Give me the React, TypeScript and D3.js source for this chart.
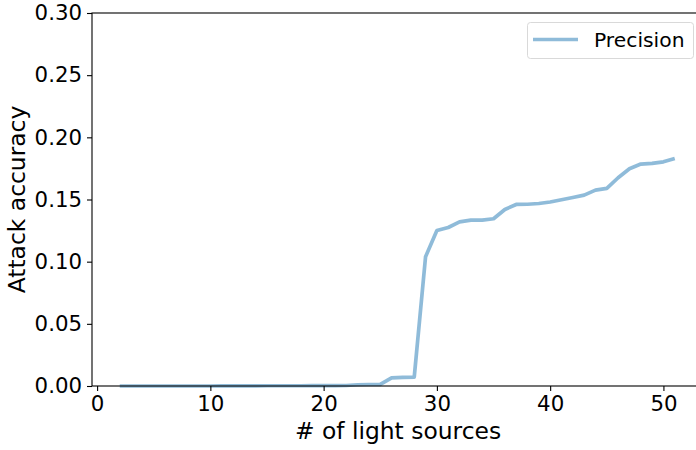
import React, { useEffect, useRef } from 'react';
import * as d3 from 'd3';

// number of light sources
const lightSources = [
  2, 3, 4, 5, 6, 7, 8, 9, 10, 11, 12, 13, 14, 15, 16, 17, 18, 19, 20, 21,
  22, 23, 24, 25, 26, 27, 28, 29, 30, 31, 32, 33, 34, 35, 36, 37, 38, 39, 40,
  41, 42, 43, 44, 45, 46, 47, 48, 49, 50, 51,
];

// attack accuracy (precision)
const precision = [
  0, 0, 0, 0, 0, 0, 0, 0, 0, 0.0001, 0.0001, 0.0001, 0.0001, 0.0002, 0.0002, 0.0002, 0.0002, 0.0003, 0.0003, 0.0003,
  0.0004, 0.0010, 0.0012, 0.0013, 0.0065, 0.0070, 0.0072, 0.104, 0.125, 0.1275, 0.132, 0.1334, 0.1334, 0.1345,
  0.142, 0.146, 0.1462, 0.1468, 0.148, 0.1498, 0.1516, 0.1535, 0.1575, 0.1589, 0.1675, 0.1747, 0.1785, 0.179,
  0.1803, 0.183,
];

const xTicks = [0, 10, 20, 30, 40, 50];
const yTicks = [0, 0.05, 0.1, 0.15, 0.2, 0.25, 0.3];

function App() {
  const chartRef = useRef<SVGSVGElement>(null);

  useEffect(() => {
    document.body.style.margin = '0';

    const svg = d3.select(chartRef.current);
    svg.selectAll('*').remove();

    const font = 'DejaVu Sans, sans-serif';
    const left = 92, top = 13, bottom = 386, right = 702.5;

    const x = d3.scaleLinear().domain([-0.45, 53.45]).range([left, right]);
    const y = d3.scaleLinear().domain([0, 0.3]).range([bottom, top]);

    const data = lightSources.map((n, i) => ({ n, v: precision[i] }));

    const line = d3.line<{ n: number; v: number }>()
      .x(d => x(d.n))
      .y(d => y(d.v));

    svg.append('path')
      .datum(data)
      .attr('d', line)
      .attr('fill', 'none')
      .attr('stroke', '#1f77b4')
      .attr('stroke-opacity', 0.5)
      .attr('stroke-width', 3.7)
      .attr('stroke-linejoin', 'round');

    // frame
    svg.append('rect')
      .attr('x', left)
      .attr('y', top)
      .attr('width', right - left)
      .attr('height', bottom - top)
      .attr('fill', 'none')
      .attr('stroke', '#000')
      .attr('stroke-width', 1.1);

    const xAxis = svg.append('g')
      .attr('transform', 'translate(0,' + bottom + ')')
      .call(d3.axisBottom(x).tickValues(xTicks).tickSize(5).tickPadding(5).tickFormat(d3.format('d')));
    xAxis.select('.domain').remove();

    const yAxis = svg.append('g')
      .attr('transform', 'translate(' + left + ',0)')
      .call(d3.axisLeft(y).tickValues(yTicks).tickSize(5).tickPadding(5).tickFormat(d3.format('.2f')));
    yAxis.select('.domain').remove();

    svg.selectAll('.tick text')
      .attr('font-family', font)
      .attr('font-size', 21.3)
      .attr('fill', '#000');
    svg.selectAll('.tick line').attr('stroke', '#000').attr('stroke-width', 1.1);

    svg.append('text')
      .attr('x', 398)
      .attr('y', 438.5)
      .attr('text-anchor', 'middle')
      .attr('font-family', font)
      .attr('font-size', 23.4)
      .text('# of light sources');

    svg.append('text')
      .attr('transform', 'translate(25,' + (top + bottom) / 2 + ') rotate(-90)')
      .attr('text-anchor', 'middle')
      .attr('font-family', font)
      .attr('font-size', 23.4)
      .text('Attack accuracy');

    // legend
    const lg = svg.append('g');
    lg.append('rect')
      .attr('x', 527.5)
      .attr('y', 22.5)
      .attr('width', 166)
      .attr('height', 36)
      .attr('rx', 3)
      .attr('fill', '#fff')
      .attr('fill-opacity', 0.8)
      .attr('stroke', '#d9d9d9');
    lg.append('line')
      .attr('x1', 533)
      .attr('x2', 578)
      .attr('y1', 39.5)
      .attr('y2', 39.5)
      .attr('stroke', '#1f77b4')
      .attr('stroke-opacity', 0.5)
      .attr('stroke-width', 3.7);
    lg.append('text')
      .attr('x', 594)
      .attr('y', 46.5)
      .attr('font-family', font)
      .attr('font-size', 20.3)
      .text('Precision');
  });

  return (
    <svg ref={chartRef} width={696} height={450} style={{ display: 'block' }}></svg>
  );
}

export default App;
